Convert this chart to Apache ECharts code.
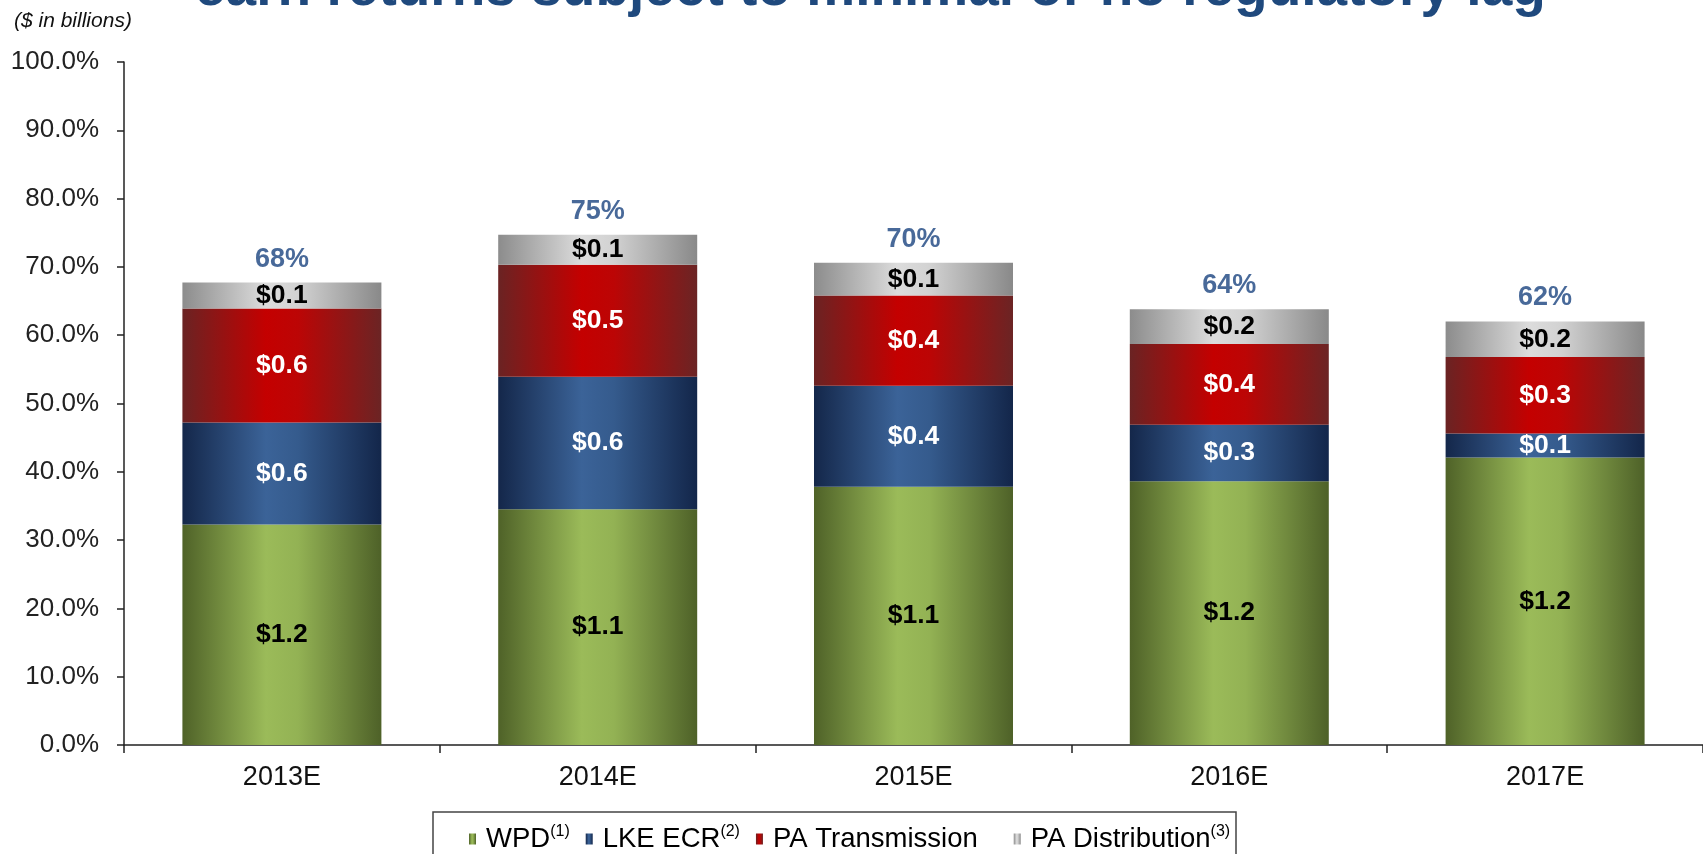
<!DOCTYPE html>
<html>
<head>
<meta charset="utf-8">
<script src="https://cdn.jsdelivr.net/npm/echarts@6/dist/echarts.min.js"></script>
<style>
html,body{margin:0;padding:0;background:#fff;}
#chart{width:1703px;height:854px;}
</style>
</head>
<body>
<div id="chart"></div>
<script>
const categories = ['2013E', '2014E', '2015E', '2016E', '2017E'];
const wpd = [32.3, 34.5, 37.8, 38.6, 42.1];
const lkeEcr = [14.9, 19.4, 14.8, 8.3, 3.5];
const paTransmission = [16.7, 16.4, 13.2, 11.8, 11.2];
const paDistribution = [3.8, 4.4, 4.8, 5.1, 5.2];
const wpdLabels = ['$1.2', '$1.1', '$1.1', '$1.2', '$1.2'];
const lkeLabels = ['$0.6', '$0.6', '$0.4', '$0.3', '$0.1'];
const transLabels = ['$0.6', '$0.5', '$0.4', '$0.4', '$0.3'];
const distLabels = ['$0.1', '$0.1', '$0.1', '$0.2', '$0.2'];
const totalLabels = ['68%', '75%', '70%', '64%', '62%'];
const seriesNames = ['WPD', 'LKE ECR', 'PA Transmission', 'PA Distribution'];
const titleText = 'earn returns subject to minimal or no regulatory lag';
const unitText = '($ in billions)';

const FONT = 'Liberation Sans';
function grad(edgeL, mid1, mid2, edgeR) {
  return {type: 'linear', x: 0, y: 0, x2: 1, y2: 0,
    colorStops: [{offset: 0, color: edgeL}, {offset: 0.42, color: mid1}, {offset: 0.58, color: mid2}, {offset: 1, color: edgeR}]};
}
const colors = [
  grad('#4F6228', '#9BBB59', '#93B254', '#4E6128'),
  grad('#14274A', '#3B6398', '#355B8D', '#13264A'),
  grad('#6A2323', '#C40000', '#BC0505', '#6B2424'),
  grad('#8C8C8C', '#DCDCDC', '#D2D2D2', '#898989')
];
const totals = categories.map((c, i) => +(wpd[i] + lkeEcr[i] + paTransmission[i] + paDistribution[i]).toFixed(2));

function barSeries(name, data, labels, color, labelColor) {
  return {
    name: name, type: 'bar', stack: 'total', data: data, barWidth: 199,
    itemStyle: {color: color},
    label: {show: true, position: 'inside', formatter: p => labels[p.dataIndex],
      color: labelColor, fontFamily: FONT, fontWeight: 'bold', fontSize: 26.5},
    emphasis: {disabled: true}
  };
}

const chart = echarts.init(document.getElementById('chart'));
chart.setOption({
  animation: false,
  backgroundColor: '#fff',
  grid: {left: 124, top: 62, width: 1590, height: 683, containLabel: false},
  xAxis: {
    type: 'category', data: categories,
    axisLine: {lineStyle: {color: '#222', width: 1.5}},
    axisTick: {show: true, length: 8, lineStyle: {color: '#222', width: 1.5}},
    axisLabel: {color: '#111', fontFamily: FONT, fontSize: 27, margin: 19}
  },
  yAxis: {
    type: 'value', min: 0, max: 100, interval: 10,
    axisLine: {show: true, lineStyle: {color: '#222', width: 1.5}},
    axisTick: {show: true, length: 7, lineStyle: {color: '#222', width: 1.5}},
    splitLine: {show: false},
    axisLabel: {color: '#222', fontFamily: FONT, fontSize: 26, margin: 25,
      formatter: v => v.toFixed(1) + '%'}
  },
  legend: {
    data: seriesNames, left: 464, top: 822, padding: [2, 5], itemGap: 16,
    icon: 'rect', itemWidth: 7, itemHeight: 11,
    selectedMode: false,
    textStyle: {fontFamily: FONT, fontSize: 27, color: '#000',
      rich: {
        n: {fontFamily: FONT, fontSize: 27.5, color: '#000', lineHeight: 30, padding: [0, 0, 0, 5]},
        t: {fontFamily: FONT, fontSize: 27.5, color: '#000', lineHeight: 30, padding: [0, 20, 0, 5]},
        s: {fontFamily: FONT, fontSize: 16, color: '#000', verticalAlign: 'top', lineHeight: 16}
      }},
    formatter: name => {
      if (name === 'WPD') return '{n|WPD}{s|(1)}';
      if (name === 'LKE ECR') return '{n|LKE ECR}{s|(2)}';
      if (name === 'PA Transmission') return '{t|PA Transmission}';
      return '{n|PA Distribution}{s|(3)}';
    }
  },
  graphic: [
    {type: 'rect', shape: {x: 433, y: 812, width: 803, height: 70},
      style: {fill: 'none', stroke: '#444', lineWidth: 1.5}, z: 1, silent: true},
    {type: 'text', x: 195, y: -10, z: 10, silent: true,
      style: {text: titleText, font: 'bold 55px "Liberation Sans"', fill: '#1F497D', textVerticalAlign: 'middle'}},
    {type: 'text', x: 14, y: 21, z: 10, silent: true,
      style: {text: unitText, font: 'italic 21px "Liberation Sans"', fill: '#111', textVerticalAlign: 'middle'}}
  ],
  series: [
    barSeries(seriesNames[0], wpd, wpdLabels, colors[0], '#000'),
    barSeries(seriesNames[1], lkeEcr, lkeLabels, colors[1], '#fff'),
    barSeries(seriesNames[2], paTransmission, transLabels, colors[2], '#fff'),
    barSeries(seriesNames[3], paDistribution, distLabels, colors[3], '#000'),
    {
      name: 'Total', type: 'scatter', data: totals, symbolSize: 0, silent: true, z: 5,
      label: {show: true, position: 'top', distance: 10, formatter: p => totalLabels[p.dataIndex],
        color: '#1A4480', fontFamily: FONT, fontWeight: 'bold', fontSize: 27}
    }
  ]
});
</script>
</body>
</html>
